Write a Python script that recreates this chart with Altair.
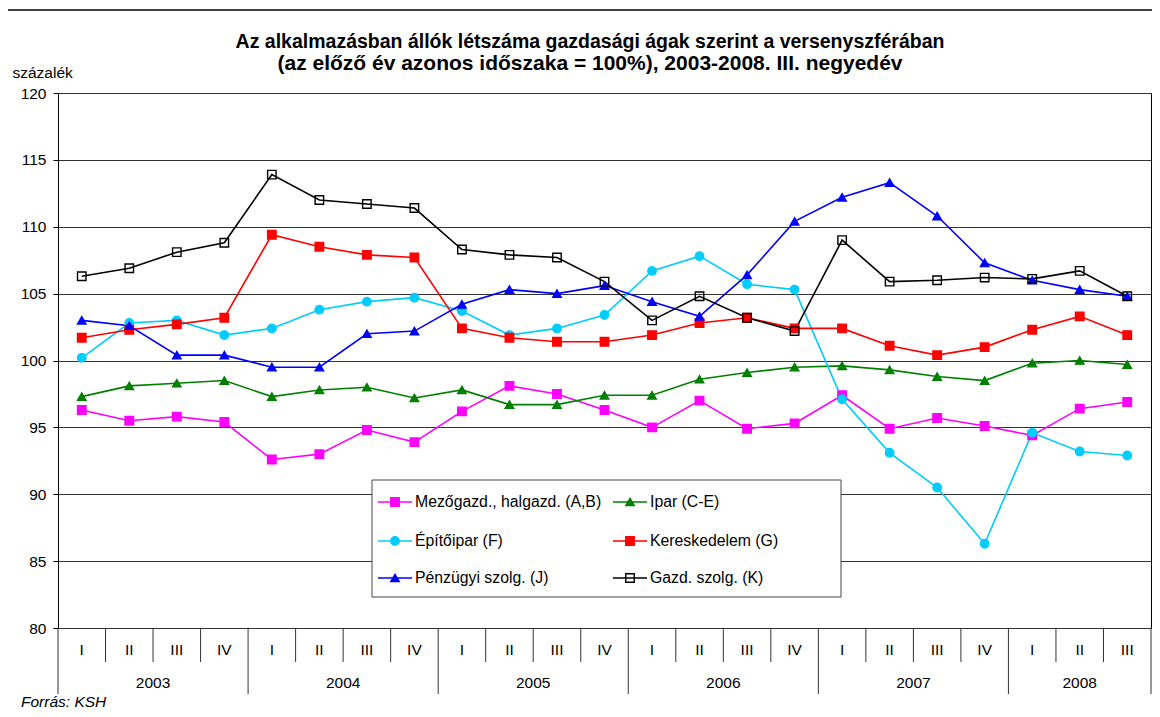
import altair as alt
import pandas as pd

# ---------------- data ----------------
quarter_labels = ["I", "II", "III", "IV"] * 5 + ["I", "II", "III"]
year_labels = ["2003", "2004", "2005", "2006", "2007", "2008"]
year_quarter_counts = [4, 4, 4, 4, 4, 3]

series_names = [
    "Mezőgazd., halgazd. (A,B)",
    "Ipar (C-E)",
    "Építőipar (F)",
    "Kereskedelem (G)",
    "Pénzügyi szolg. (J)",
    "Gazd. szolg. (K)",
]

mezogazd = [96.3, 95.5, 95.8, 95.4, 92.6, 93.0, 94.8, 93.9, 96.2, 98.1, 97.5, 96.3,
            95.0, 97.0, 94.9, 95.3, 97.4, 94.9, 95.7, 95.1, 94.4, 96.4, 96.9]
ipar = [97.3, 98.1, 98.3, 98.5, 97.3, 97.8, 98.0, 97.2, 97.8, 96.7, 96.7, 97.4,
        97.4, 98.6, 99.1, 99.5, 99.6, 99.3, 98.8, 98.5, 99.8, 100.0, 99.7]
epitoipar = [100.2, 102.8, 103.0, 101.9, 102.4, 103.8, 104.4, 104.7, 103.7, 101.9, 102.4, 103.4,
             106.7, 107.8, 105.7, 105.3, 97.1, 93.1, 90.5, 86.3, 94.6, 93.2, 92.9]
kereskedelem = [101.7, 102.3, 102.7, 103.2, 109.4, 108.5, 107.9, 107.7, 102.4, 101.7, 101.4, 101.4,
                101.9, 102.8, 103.2, 102.4, 102.4, 101.1, 100.4, 101.0, 102.3, 103.3, 101.9]
penzugyi = [103.0, 102.6, 100.4, 100.4, 99.5, 99.5, 102.0, 102.2, 104.2, 105.3, 105.0, 105.6,
            104.4, 103.3, 106.4, 110.4, 112.2, 113.3, 110.8, 107.3, 106.0, 105.3, 104.8]
gazd_szolg = [106.3, 106.9, 108.1, 108.8, 113.9, 112.0, 111.7, 111.4, 108.3, 107.9, 107.7, 105.9,
              103.0, 104.8, 103.2, 102.2, 109.0, 105.9, 106.0, 106.2, 106.1, 106.7, 104.8]

title_lines = [
    "Az alkalmazásban állók létszáma gazdasági ágak szerint a versenyszférában",
    "(az előző év azonos időszaka = 100%), 2003-2008. III. negyedév",
]
y_title = "százalék"
source_note = "Forrás: KSH"
y_ticks = [80, 85, 90, 95, 100, 105, 110, 115, 120]

# ---------------- styles ----------------
colors = ["#FF00FF", "#008000", "#00CCFF", "#FF0000", "#0000FF", "#000000"]
shapes = ["square", "triangle-up", "circle", "square", "triangle-up", "square"]
fills = ["#FF00FF", "#008000", "#00CCFF", "#FF0000", "#0000FF", "transparent"]

FONT = "Liberation Sans"
W, H = 1093, 535
FS = 15.5

# ---------------- tables ----------------
n = len(quarter_labels)
all_values = [mezogazd, ipar, epitoipar, kereskedelem, penzugyi, gazd_szolg]
rows = []
for s_i, (name, vals) in enumerate(zip(series_names, all_values)):
    for i, v in enumerate(vals):
        rows.append({"series": name, "pos": i + 0.5, "value": v, "order": s_i})
df = pd.DataFrame(rows)

q_df = pd.DataFrame({"pos": [i + 0.5 for i in range(n)], "label": quarter_labels})
year_bounds = [0]
for c in year_quarter_counts:
    year_bounds.append(year_bounds[-1] + c)
y_df = pd.DataFrame({
    "pos": [(year_bounds[k] + year_bounds[k + 1]) / 2 for k in range(len(year_labels))],
    "label": year_labels,
})
qsep_df = pd.DataFrame({"pos": [i for i in range(1, n) if i not in year_bounds]})
ysep_df = pd.DataFrame({"pos": year_bounds})
one = pd.DataFrame({"k": [0]})

# legend layout (pixel positions inside plot frame)
leg_cols_x = [320, 555]
leg_rows_y = [409, 448, 485]
leg_rows = []
for i, name in enumerate(series_names):
    c, r = i % 2, i // 2
    x0 = leg_cols_x[c]
    leg_rows.append({"series": name, "x0": x0, "x1": x0 + 34, "mx": x0 + 17,
                     "tx": x0 + 37, "ly": leg_rows_y[r]})
leg_df = pd.DataFrame(leg_rows)

# ---------------- scales ----------------
xscale = alt.Scale(domain=[0, n], nice=False, zero=False)
yscale = alt.Scale(domain=[80, 120], nice=False, zero=False)
color_scale = alt.Scale(domain=series_names, range=colors)
fill_scale = alt.Scale(domain=series_names, range=fills)
shape_scale = alt.Scale(domain=series_names, range=shapes)

yaxis = alt.Axis(
    values=y_ticks, grid=True, gridColor="#333", gridWidth=1, gridOpacity=1,
    domain=True, domainColor="#000", domainWidth=1,
    ticks=True, tickColor="#000", tickSize=5, tickWidth=1,
    labelFont=FONT, labelFontSize=FS, labelColor="#000", labelPadding=7,
    title=y_title, titleFont=FONT, titleFontSize=FS, titleFontWeight="normal",
    titleColor="#000", titleAngle=0, titleAlign="left", titleBaseline="alphabetic",
    titleX=-46, titleY=-16,
)

X = alt.X("pos:Q", scale=xscale, axis=None)
Y = alt.Y("value:Q", scale=yscale, axis=yaxis)

lines = alt.Chart(df).mark_line(strokeWidth=1.6).encode(
    x=X, y=Y,
    color=alt.Color("series:N", scale=color_scale, legend=None),
    detail="series:N",
)

points = alt.Chart(df).mark_point(size=72, strokeWidth=1.4, opacity=1, fillOpacity=1).encode(
    x=X, y=Y,
    stroke=alt.Stroke("series:N", scale=color_scale, legend=None),
    fill=alt.Fill("series:N", scale=fill_scale, legend=None),
    shape=alt.Shape("series:N", scale=shape_scale, legend=None),
    order=alt.Order("order:Q"),
)

qsep = alt.Chart(qsep_df).mark_rule(color="#333", strokeWidth=1).encode(
    x=X, y=alt.value(H), y2=alt.value(H + 34))
ysep = alt.Chart(ysep_df).mark_rule(color="#333", strokeWidth=1).encode(
    x=X, y=alt.value(H), y2=alt.value(H + 66))
qtext = alt.Chart(q_df).mark_text(font=FONT, fontSize=FS, color="#000", baseline="middle").encode(
    x=X, y=alt.value(H + 22), text="label:N")
ytext = alt.Chart(y_df).mark_text(font=FONT, fontSize=FS, color="#000", baseline="middle").encode(
    x=X, y=alt.value(H + 55), text="label:N")

title1 = alt.Chart(one).mark_text(font=FONT, fontSize=19.5, fontWeight="bold", color="#000",
                                  align="center", baseline="alphabetic").encode(
    x=alt.value(532), y=alt.value(-45), text=alt.value(title_lines[0]))
title2 = alt.Chart(one).mark_text(font=FONT, fontSize=21, fontWeight="bold", color="#000",
                                  align="center", baseline="alphabetic").encode(
    x=alt.value(532), y=alt.value(-23), text=alt.value(title_lines[1]))
source = alt.Chart(one).mark_text(font=FONT, fontSize=FS, fontStyle="italic", color="#000",
                                  align="left", baseline="alphabetic").encode(
    x=alt.value(-37), y=alt.value(614), text=alt.value(source_note))

frame_top = alt.Chart(one).mark_rule(color="#000", strokeWidth=1.5).encode(
    x=alt.value(-51), x2=alt.value(W + 20), y=alt.value(-83))
frame_left = alt.Chart(one).mark_rule(color="#000", strokeWidth=1.5).encode(
    x=alt.value(-51), y=alt.value(-83), y2=alt.value(H + 100))

leg_box = alt.Chart(one).mark_rect(fill="white", stroke="#444", strokeWidth=1).encode(
    x=alt.value(314), x2=alt.value(783), y=alt.value(387), y2=alt.value(504))
leg_lines = alt.Chart(leg_df).mark_rule(strokeWidth=1.6).encode(
    x=alt.X("x0:Q", scale=None, axis=None), x2="x1:Q",
    y=alt.Y("ly:Q", scale=None, axis=None),
    color=alt.Color("series:N", scale=color_scale, legend=None),
)
leg_pts = alt.Chart(leg_df).mark_point(size=72, strokeWidth=1.4, opacity=1, fillOpacity=1).encode(
    x=alt.X("mx:Q", scale=None, axis=None),
    y=alt.Y("ly:Q", scale=None, axis=None),
    stroke=alt.Stroke("series:N", scale=color_scale, legend=None),
    fill=alt.Fill("series:N", scale=fill_scale, legend=None),
    shape=alt.Shape("series:N", scale=shape_scale, legend=None),
)
leg_text = alt.Chart(leg_df).mark_text(font=FONT, fontSize=15.8, color="#000", align="left",
                                       baseline="middle").encode(
    x=alt.X("tx:Q", scale=None, axis=None),
    y=alt.Y("ly:Q", scale=None, axis=None),
    text="series:N",
)

chart = alt.layer(
    lines, points, qsep, ysep, qtext, ytext, title1, title2, source,
    frame_top, frame_left, leg_box, leg_lines, leg_pts, leg_text,
).properties(
    width=W, height=H,
    padding={"left": 50, "top": 85, "right": 1, "bottom": 81},
    autosize=alt.AutoSizeParams(type="none"),
    background="white",
).configure_view(stroke="#000", strokeWidth=1)

chart.save("out.html", embed_options={"renderer": "svg", "actions": False})
